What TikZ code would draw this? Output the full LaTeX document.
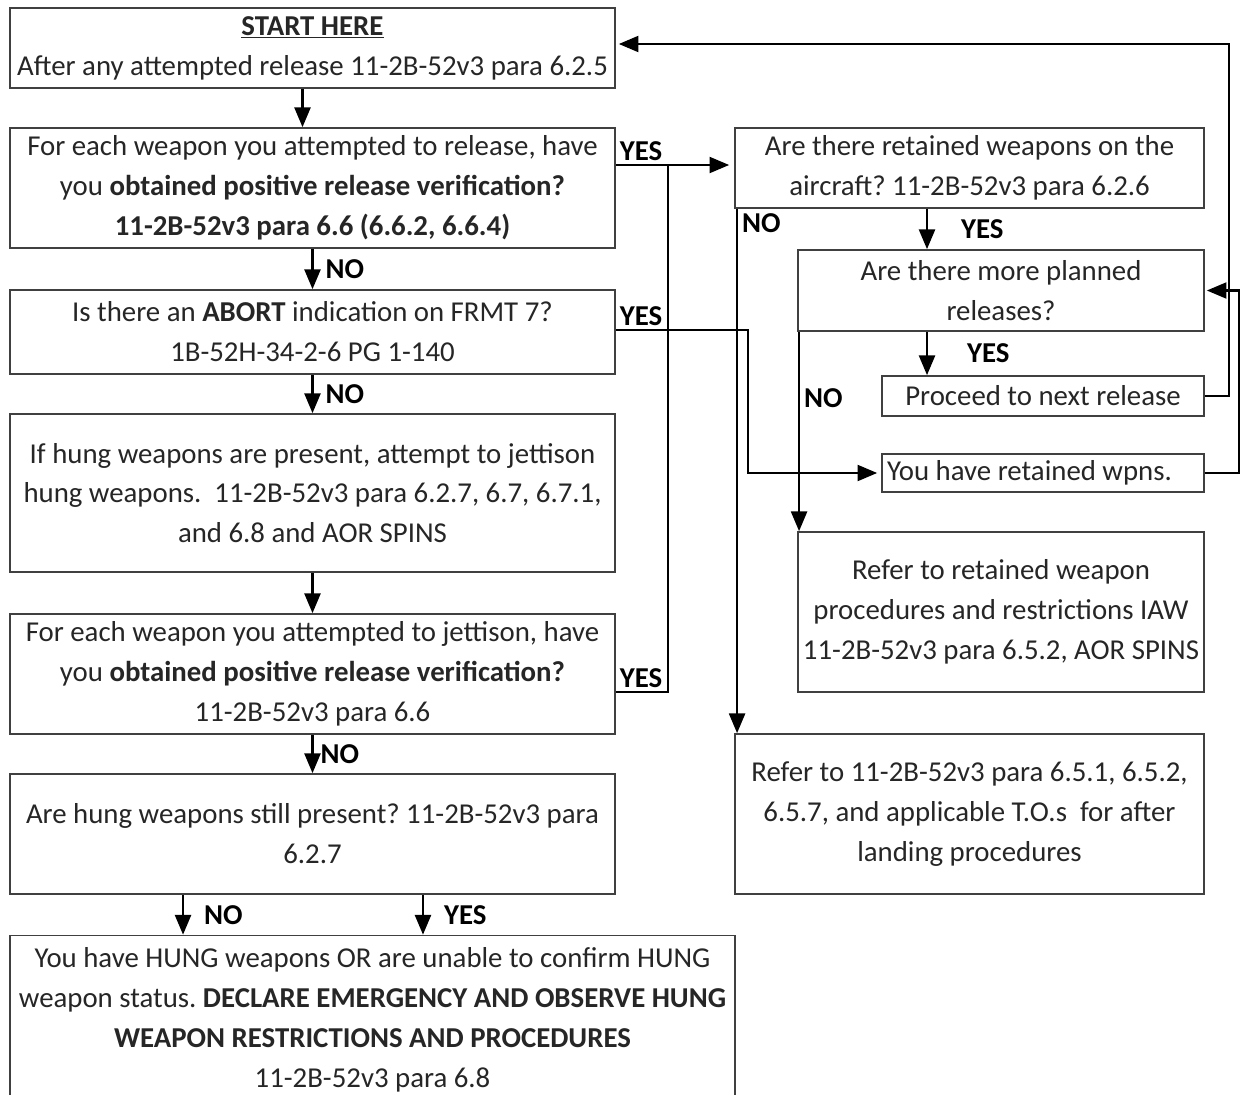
\documentclass[tikz,border=0pt]{standalone}
\usepackage{fontspec}
\setmainfont{Carlito}
\usetikzlibrary{positioning}
\usetikzlibrary{arrows}
\frenchspacing
\tikzset{
        flownode/.style={align=center,inner sep=0pt,font=\fontsize{16.4}{22.7}\selectfont,text=black!85},
        % Step and question boxes
        node_box/.style={flownode, rectangle, draw=black!75, line width=1.1pt, fill=white},
        % Yes / No answers on the connectors
        node_label/.style={flownode, font=\fontsize{16.4}{22.7}\selectfont\bfseries, text=black, inner sep=1pt},
        % Connectors
        link/.style={line width=1.6pt, black}
}

\begin{document}
\begin{tikzpicture}[
            ->,
            >=triangle 45,
            x=0.02cm, y=-0.02cm
        ]
    \useasboundingbox (0,0) rectangle (1241,1095);

    % left column
    \node[node_box, minimum width=12.1cm, minimum height=1.6cm] (start) at (312.5,48)
        {\underline{\textbf{START HERE}}\\After any attempted release 11-2B-52v3 para 6.2.5};
    \node[node_box, minimum width=12.1cm, minimum height=2.4cm] (verify) at (312.5,188)
        {For each weapon you attempted to release, have\\you \textbf{obtained positive release verification?}\\\textbf{11-2B-52v3 para 6.6 (6.6.2, 6.6.4)}};
    \node[node_box, minimum width=12.1cm, minimum height=1.68cm] (abort) at (312.5,332)
        {Is there an \textbf{ABORT} indication on FRMT 7?\\1B-52H-34-2-6 PG 1-140};
    \node[node_box, minimum width=12.1cm, minimum height=3.16cm] (jettison) at (312.5,493)
        {If hung weapons are present, attempt to jettison\\hung weapons.\ \ 11-2B-52v3 para 6.2.7, 6.7, 6.7.1,\\and 6.8 and AOR SPINS};
    \node[node_box, minimum width=12.1cm, minimum height=2.4cm] (jetverify) at (312.5,674)
        {For each weapon you attempted to jettison, have\\you \textbf{obtained positive release verification?}\\11-2B-52v3 para 6.6};
    \node[node_box, minimum width=12.1cm, minimum height=2.4cm] (stillhung) at (312.5,834)
        {Are hung weapons still present? 11-2B-52v3 para\\6.2.7};
    \node[node_box, minimum width=14.5cm, minimum height=3.38cm] (hung) at (372.5,1020)
        {You have HUNG weapons OR are unable to confirm HUNG\\weapon status. \textbf{DECLARE EMERGENCY AND OBSERVE HUNG}\\\textbf{WEAPON RESTRICTIONS AND PROCEDURES}\\11-2B-52v3 para 6.8};

    % right column
    \node[node_box, minimum width=9.38cm, minimum height=1.6cm] (retained) at (969.5,168)
        {Are there retained weapons on the\\aircraft? 11-2B-52v3 para 6.2.6};
    \node[node_box, minimum width=8.12cm, minimum height=1.62cm] (moreplanned) at (1001,290.5)
        {Are there more planned\\releases?};
    \node[node_box, minimum width=6.44cm, minimum height=0.8cm] (proceed) at (1043,396)
        {Proceed to next release};
    \node[node_box, minimum width=6.44cm, minimum height=0.76cm] (youhave) at (1043,473)
        {\makebox[6.24cm][l]{You have retained wpns.}};
    \node[node_box, minimum width=8.12cm, minimum height=3.2cm] (referret) at (1001,612)
        {Refer to retained weapon\\procedures and restrictions IAW\\11-2B-52v3 para 6.5.2, AOR SPINS};
    \node[node_box, minimum width=9.38cm, minimum height=3.2cm] (referto) at (969.5,814)
        {Refer to 11-2B-52v3 para 6.5.1, 6.5.2,\\6.5.7, and applicable T.O.s\ \ for after\\landing procedures};

    \coordinate (yes_join) at (668,165);

    % left column connectors
    \draw[link] ([xshift=-0.2cm]start.south) -- ([xshift=-0.2cm]verify.north);
    \draw[link] (verify.south) -- (abort.north) node[node_label, midway, right=0.2cm] (lbl_verify_no) {NO};
    \draw[link] (abort.south) -- (jettison.north) node[node_label, midway, right=0.2cm] (lbl_abort_no) {NO};
    \draw[link] (jettison.south) -- (jetverify.north);
    \draw[link] (jetverify.south) -- (stillhung.north) node[node_label, midway, right=0.1cm] (lbl_jet_no) {NO};
    \draw[link] ([xshift=-2.59cm]stillhung.south) -- ([xshift=-2.59cm]stillhung.south |- hung.north)
        node[node_label, midway, right=0.36cm] (lbl_hung_no) {NO};
    \draw[link] ([xshift=2.21cm]stillhung.south) -- ([xshift=2.21cm]stillhung.south |- hung.north)
        node[node_label, midway, right=0.36cm] (lbl_hung_yes) {YES};

    % yes branches
    \draw[link] ([yshift=0.46cm]verify.east) node[node_label, above right=0.02cm] (lbl_verify_yes) {YES}
        -- ([yshift=0.46cm,xshift=-0.1cm]verify.east -| retained.west);
    \draw[link,-] ([yshift=-0.36cm]jetverify.east) node[node_label, above right=0.02cm] (lbl_jet_yes) {YES}
        -| (yes_join);
    \draw[link] ([yshift=0.04cm]abort.east) node[node_label, above right=0.02cm] (lbl_abort_yes) {YES}
        -- ++(132,0) |- ([xshift=-0.08cm]youhave.west);

    % right column connectors
    \draw[link] ([xshift=0.06cm]retained.south west) node[node_label, below right=0.05cm] (lbl_ret_no) {NO}
        -- ([xshift=0.06cm]referto.north west);
    \draw[link] ([xshift=-0.85cm]retained.south) -- ([xshift=-0.85cm]retained.south |- moreplanned.north)
        node[node_label, midway, right=0.62cm] (lbl_ret_yes) {YES};
    \draw[link] ([xshift=-1.48cm]moreplanned.south) -- ([xshift=-1.48cm]moreplanned.south |- proceed.north)
        node[node_label, midway, right=0.74cm] (lbl_more_yes) {YES};
    \draw[link] ([xshift=0.04cm]moreplanned.south west) -- ([xshift=0.04cm]referret.north west)
        node[node_label, pos=0.33, right=0.04cm] (lbl_more_no) {NO};
    \draw[link] (proceed.east) -- ++(24,0) |- ([yshift=0.08cm,xshift=0.06cm]start.east);
    \draw[link] (youhave.east) -- ++(34,0) |- ([xshift=0.04cm]moreplanned.east);
\end{tikzpicture}
\end{document}
